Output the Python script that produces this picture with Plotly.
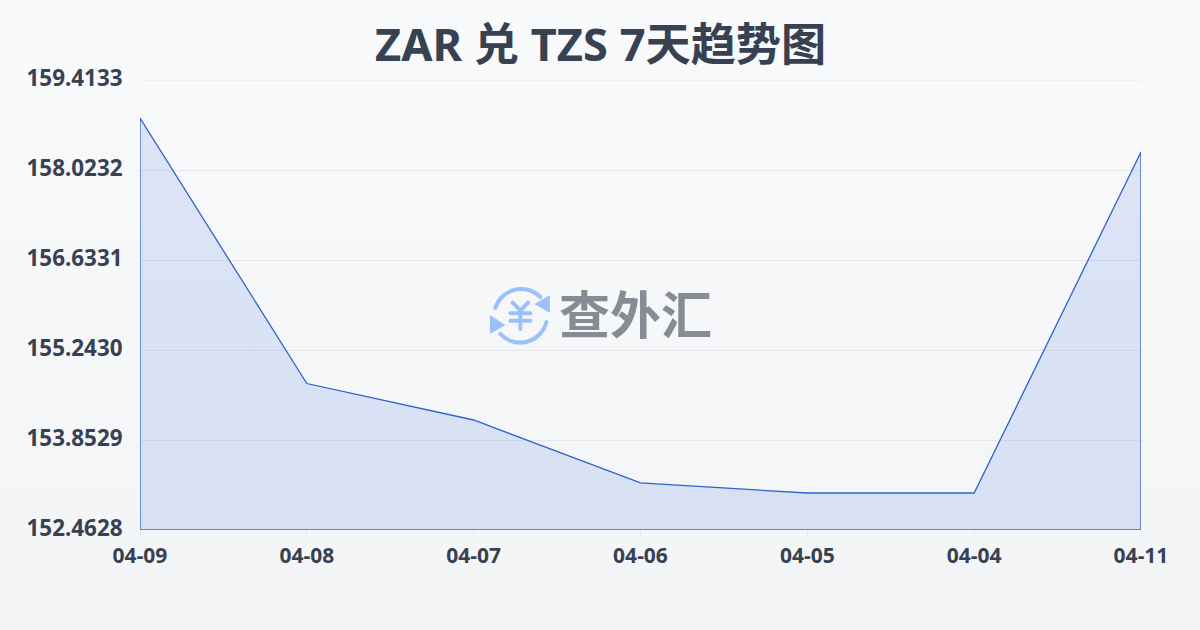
import base64
import plotly.graph_objects as go

title = "ZAR 兑 TZS 7天趋势图"
watermark = "查外汇"
dates = ["04-09", "04-08", "04-07", "04-06", "04-05", "04-04", "04-11"]
rates = [158.826, 154.725, 154.162, 153.189, 153.034, 153.034, 158.301]
y_ticks = [152.4628, 153.8529, 155.2430, 156.6331, 158.0232, 159.4133]
y_labels = ["152.4628", "153.8529", "155.2430", "156.6331", "158.0232", "159.4133"]
y_min, y_max = y_ticks[0], y_ticks[-1]

FONT = "'Noto Sans', 'Noto Sans CJK SC', sans-serif"
INK = "#374151"
GRID = "#e5e7eb"

icon = """<svg xmlns='http://www.w3.org/2000/svg' viewBox='0 0 70 70'>
<g fill='none' stroke='#9cc0fb' stroke-width='4' stroke-linecap='round' stroke-linejoin='round'>
<path d='M10 28 A27 27 0 0 1 55 17'/>
<path d='M61 42 A27 27 0 0 1 15 54'/>
<path d='M27.300 22.700 L35 30.700 L42.700 22.700 M35 30.700 L35 49 M25 33.300 L45 33.300 M25 40.700 L45 40.700'/>
</g>
<path d='M64 16 L64 32 L50 24 Z' fill='#9cc0fb' stroke='#9cc0fb' stroke-linejoin='round'/>
<path d='M5 36 L5 53 L19 45 Z' fill='#9cc0fb' stroke='#9cc0fb' stroke-linejoin='round'/>
</svg>"""
icon_uri = "data:image/svg+xml;base64," + base64.b64encode(icon.encode()).decode()

fig = go.Figure()
fig.add_trace(go.Scatter(
    x=dates + [dates[-1], dates[0], dates[0]],
    y=rates + [y_min, y_min, rates[0]],
    mode="lines",
    fill="toself",
    fillcolor="rgba(59,110,220,0.15)",
    line=dict(color="#2f62cc", width=1.3),
    cliponaxis=False,
    hoverinfo="skip",
    showlegend=False,
))

fig.update_layout(
    width=1200,
    height=630,
    autosize=False,
    margin=dict(l=140, r=59, t=80, b=99.5),
    paper_bgcolor="rgba(0,0,0,0)",
    plot_bgcolor="rgba(0,0,0,0)",
    font=dict(family=FONT, color=INK),
    xaxis=dict(
        type="category",
        categoryorder="array",
        categoryarray=dates,
        range=[0, len(dates) - 1],
        showgrid=False,
        zeroline=False,
        showline=False,
        ticks="outside",
        ticklen=7,
        tickwidth=1,
        tickcolor=GRID,
        tickfont=dict(size=21, family=FONT, color=INK, weight="bold"),
    ),
    yaxis=dict(
        range=[y_min, y_max],
        tickvals=y_ticks,
        ticktext=y_labels,
        showgrid=True,
        gridcolor=GRID,
        gridwidth=1,
        zeroline=False,
        showline=False,
        ticks="outside",
        ticklen=12,
        tickcolor="rgba(0,0,0,0)",
        ticklabelshift=-2,
        tickfont=dict(size=22.4, family=FONT, color=INK, weight="bold"),
    ),
    shapes=[dict(type="line", xref="paper", x0=0, x1=1, yref="y", y0=y_max, y1=y_max,
                 line=dict(color=GRID, width=1), layer="below")],
    annotations=[
        dict(text=f"<b>{title}</b>", xref="paper", yref="paper", x=0.46, y=1.08,
             xanchor="center", yanchor="middle", showarrow=False,
             font=dict(size=45.2, family=FONT, color=INK)),
        dict(text=f"<b>{watermark}</b>", xref="paper", yref="paper", x=0.4955,
             y=0.485, xanchor="center", yanchor="middle", showarrow=False,
             font=dict(size=51, family="'Noto Sans CJK SC', sans-serif", color="#868b94")),
    ],
    images=[dict(source=icon_uri, xref="paper", yref="paper", x=0.345, y=0.5556,
                 sizex=0.07, sizey=0.15556, xanchor="left", yanchor="top",
                 sizing="contain", layer="above")],
)

post = ("document.documentElement.style.margin='0';document.body.style.margin='0';"
        "document.body.style.height='630px';document.body.style.overflow='hidden';"
        "document.body.style.background='linear-gradient(180deg,#f9fafc 0%,#f3f4f6 100%)';")
fig.write_html("out.html", post_script=post, config={"displayModeBar": False})
